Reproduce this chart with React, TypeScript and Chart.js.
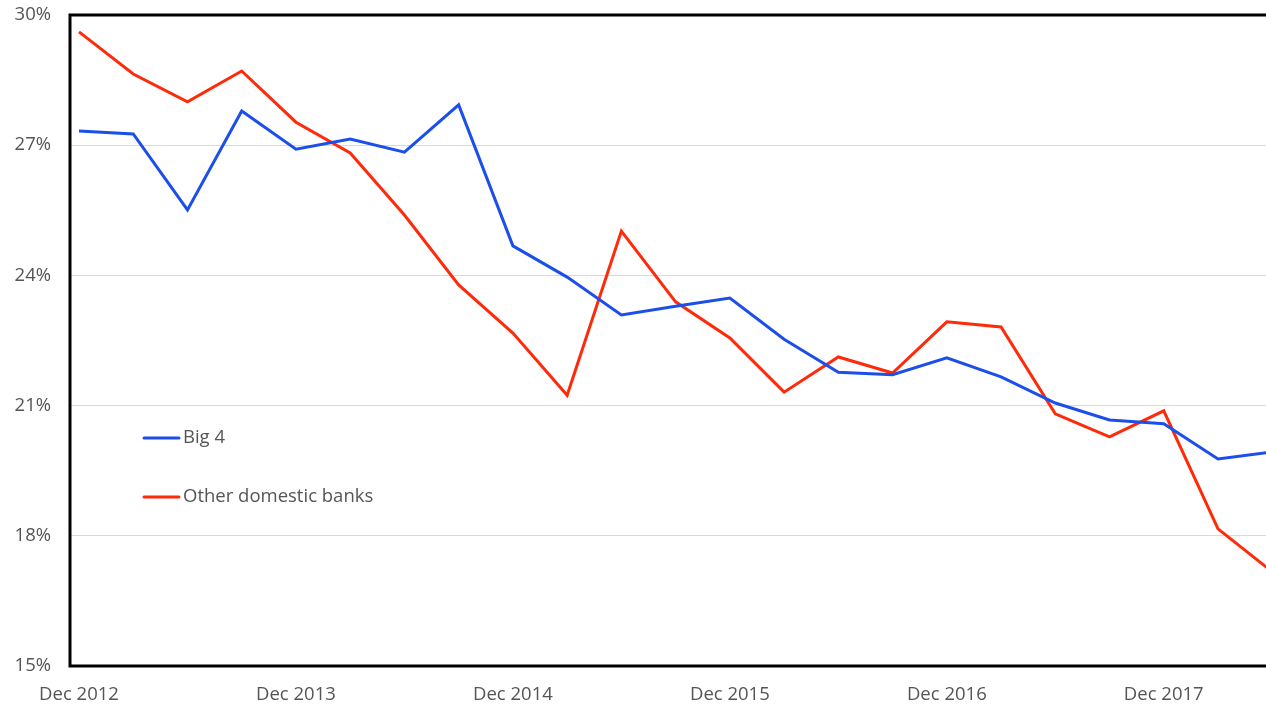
import React, { useEffect, useRef } from "react";
import { Chart, registerables } from "chart.js";

Chart.register(...registerables);

const quarters = [
  "Dec 2012", "Mar 2013", "Jun 2013", "Sep 2013",
  "Dec 2013", "Mar 2014", "Jun 2014", "Sep 2014",
  "Dec 2014", "Mar 2015", "Jun 2015", "Sep 2015",
  "Dec 2015", "Mar 2016", "Jun 2016", "Sep 2016",
  "Dec 2016", "Mar 2017", "Jun 2017", "Sep 2017",
  "Dec 2017", "Mar 2018", "Jun 2018",
];

const big4 = [
  27.33, 27.26, 25.51, 27.79, 26.91, 27.14, 26.84, 27.93,
  24.68, 23.96, 23.09, 23.29, 23.48, 22.53, 21.77, 21.71,
  22.10, 21.66, 21.06, 20.67, 20.58, 19.77, 19.93,
];

const otherBanks = [
  29.61, 28.64, 28.0, 28.71, 27.53, 26.82, 25.39, 23.78,
  22.67, 21.24, 25.02, 23.39, 22.56, 21.31, 22.12, 21.75,
  22.93, 22.81, 20.81, 20.28, 20.88, 18.16, 17.17,
];

const seriesNames = ["Big 4", "Other domestic banks"];
const seriesColors = ["#1c4fea", "#ff2a0a"];
const yTicks = [15, 18, 21, 24, 27, 30];
const xTickIndices = [0, 4, 8, 12, 16, 20];

const FONT = "'Open Sans', sans-serif";
const FONT_SIZE = 18.5;
const TEXT_COLOR = "#555555";

const framePlugin = {
  id: "frame",
  afterDraw(chart: any) {
    const { ctx, chartArea } = chart;
    const { left, top, bottom } = chartArea;
    ctx.save();
    ctx.strokeStyle = "#000";
    ctx.lineWidth = 3;
    ctx.beginPath();
    ctx.moveTo(chart.width + 5, top);
    ctx.lineTo(left, top);
    ctx.lineTo(left, bottom);
    ctx.lineTo(chart.width + 5, bottom);
    ctx.stroke();

    // legend inside plot
    const items = [
      { y: 438, i: 0 },
      { y: 497, i: 1 },
    ];
    ctx.font = `${FONT_SIZE}px ${FONT}`;
    ctx.textBaseline = "middle";
    ctx.textAlign = "left";
    items.forEach(({ y, i }) => {
      ctx.strokeStyle = seriesColors[i];
      ctx.lineWidth = 3;
      ctx.lineCap = "round";
      ctx.beginPath();
      ctx.moveTo(144, y);
      ctx.lineTo(179, y);
      ctx.stroke();
      ctx.fillStyle = TEXT_COLOR;
      ctx.fillText(seriesNames[i], 183, y);
    });
    ctx.restore();
  },
};

export default function App() {
  const ref = useRef<HTMLCanvasElement | null>(null);

  useEffect(() => {
    if (!ref.current) return;
    const chart = new Chart(ref.current, {
      type: "line",
      data: {
        datasets: [
          {
            label: seriesNames[0],
            data: big4.map((v, i) => ({ x: i, y: v })),
            borderColor: seriesColors[0],
            borderWidth: 3,
            pointRadius: 0,
            tension: 0,
          },
          {
            label: seriesNames[1],
            data: otherBanks.map((v, i) => ({ x: i, y: v })),
            borderColor: seriesColors[1],
            borderWidth: 3,
            pointRadius: 0,
            tension: 0,
          },
        ],
      },
      options: {
        animation: false,
        responsive: false,
        maintainAspectRatio: false,
        layout: { padding: { top: 15, right: 0, left: 0, bottom: 0 } },
        plugins: {
          legend: { display: false },
          tooltip: { enabled: false },
          title: { display: false },
        },
        scales: {
          x: {
            type: "linear",
            min: -0.166,
            max: 21.885,
            grid: { display: false, drawTicks: false },
            border: { display: false },
            afterFit: (s: any) => {
              s.height = 40;
              s.paddingLeft = 0;
              s.paddingRight = 0;
            },
            afterBuildTicks: (s: any) => {
              s.ticks = xTickIndices.map((v) => ({ value: v }));
            },
            ticks: {
              autoSkip: false,
              maxRotation: 0,
              padding: 18,
              color: TEXT_COLOR,
              font: { family: FONT, size: FONT_SIZE },
              callback: (v: any) => quarters[Number(v)] ?? "",
            },
          },
          y: {
            min: 15,
            max: 30,
            grid: {
              color: (c: any) =>
                c.tick && (c.tick.value === 15 || c.tick.value === 30)
                  ? "rgba(0,0,0,0)"
                  : "#d9d9d9",
              lineWidth: 1,
              drawTicks: false,
            },
            border: { display: false },
            afterFit: (s: any) => {
              s.width = 70;
              s.paddingTop = 0;
              s.paddingBottom = 0;
            },
            afterBuildTicks: (s: any) => {
              s.ticks = yTicks.map((v) => ({ value: v }));
            },
            ticks: {
              padding: 19,
              color: TEXT_COLOR,
              font: { family: FONT, size: FONT_SIZE },
              callback: (v: any) => `${v}%`,
            },
          },
        },
      },
      plugins: [framePlugin],
    });
    return () => chart.destroy();
  }, []);

  return (
    <div style={{ position: "fixed", left: 0, top: 0, width: 1266, height: 706, background: "#fff", overflow: "hidden" }}>
      <canvas ref={ref} width={1266} height={706} style={{ display: "block" }} />
    </div>
  );
}
